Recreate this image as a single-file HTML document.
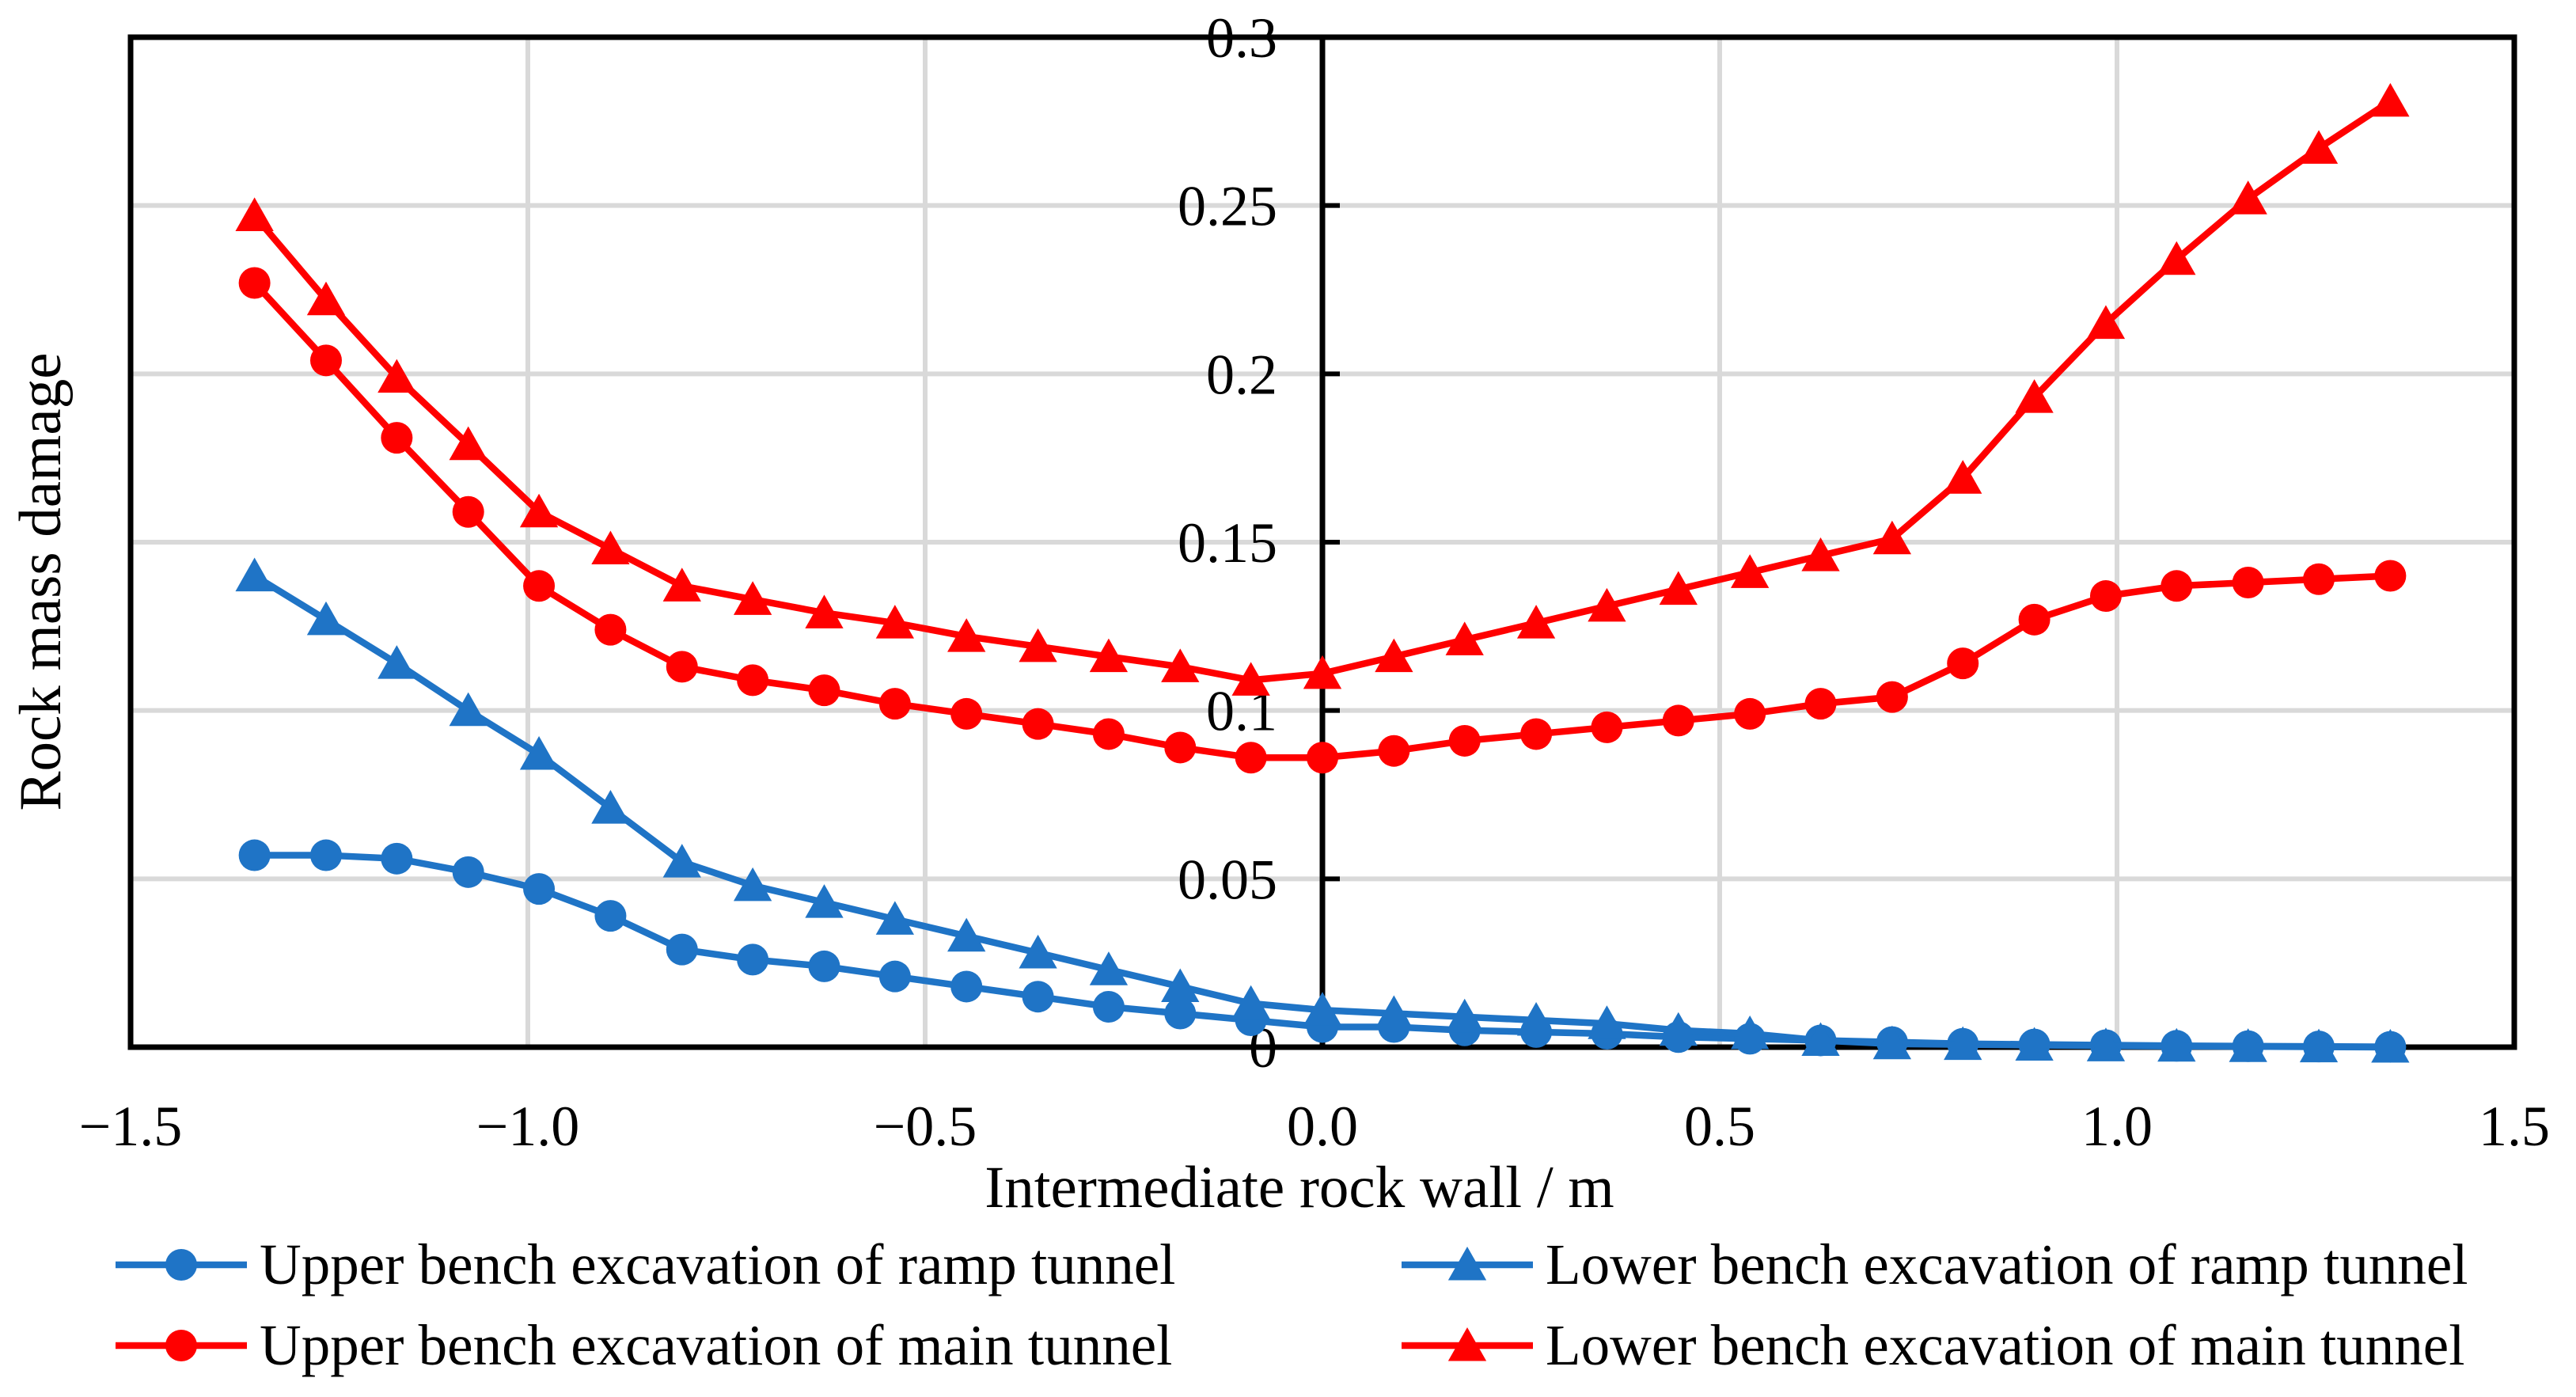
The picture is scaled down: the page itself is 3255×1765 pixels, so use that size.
<!DOCTYPE html>
<html><head><meta charset="utf-8"><style>
html,body{margin:0;padding:0;background:#fff;}
svg{display:block;font-family:"Liberation Serif",serif;}
</style></head><body>
<svg id="chart" xmlns="http://www.w3.org/2000/svg" width="3255" height="1765" viewBox="0 0 3255 1765">
<rect x="0" y="0" width="3255" height="1765" fill="#fff"/>
<g id="grid"></g>
<g id="axes"></g>
<g id="series"></g>
<text x="1642" y="1525" font-size="75" text-anchor="middle">Intermediate rock wall / m</text>
<text transform="translate(76,735) rotate(-90)" font-size="75" text-anchor="middle">Rock mass damage</text>
<g id="legend"></g>
</svg>
<script>
const xValues = [-1.344,-1.254,-1.165,-1.075,-0.986,-0.896,-0.806,-0.717,-0.627,-0.538,-0.448,-0.358,-0.269,-0.179,-0.090,0,0.090,0.179,0.269,0.358,0.448,0.538,0.627,0.717,0.806,0.896,0.986,1.075,1.165,1.254,1.344];
const upperRamp = [0.057,0.057,0.056,0.052,0.047,0.039,0.029,0.026,0.024,0.021,0.018,0.015,0.012,0.010,0.008,0.006,0.006,0.005,0.0045,0.004,0.003,0.0025,0.002,0.0015,0.001,0.0008,0.0006,0.0004,0.0003,0.0002,0.0001];
const lowerRamp = [0.140,0.127,0.114,0.100,0.087,0.071,0.055,0.048,0.043,0.038,0.033,0.028,0.023,0.018,0.013,0.011,0.010,0.009,0.008,0.007,0.005,0.004,0.002,0.001,0.0008,0.0006,0.0004,0.0003,0.0002,0.0001,0];
const upperMain = [0.227,0.204,0.181,0.159,0.137,0.124,0.113,0.109,0.106,0.102,0.099,0.096,0.093,0.089,0.086,0.086,0.088,0.091,0.093,0.095,0.097,0.099,0.102,0.104,0.114,0.127,0.134,0.137,0.138,0.139,0.140];
const lowerMain = [0.247,0.222,0.199,0.179,0.159,0.148,0.137,0.133,0.129,0.126,0.122,0.119,0.116,0.113,0.109,0.111,0.116,0.121,0.126,0.131,0.136,0.141,0.146,0.151,0.169,0.193,0.215,0.234,0.252,0.267,0.281];
const xTicks = [-1.5,-1.0,-0.5,0.0,0.5,1.0,1.5];
const xTickLabels = ["\u22121.5","\u22121.0","\u22120.5","0.0","0.5","1.0","1.5"];
const yTicks = [0,0.05,0.1,0.15,0.2,0.25,0.3];
const yTickLabels = ["0","0.05","0.1","0.15","0.2","0.25","0.3"];
const seriesNames = ["Upper bench excavation of ramp tunnel","Lower bench excavation of ramp tunnel","Upper bench excavation of main tunnel","Lower bench excavation of main tunnel"];

const NS="http://www.w3.org/2000/svg";
const L=165,R=3177,T=47,B=1323;
const xMin=-1.5,xMax=1.5,yMin=0,yMax=0.3;
function sx(v){return L+(v-xMin)/(xMax-xMin)*(R-L);}
function sy(v){return B-(v-yMin)/(yMax-yMin)*(B-T);}
function mk(tag,attrs,parent){const e=document.createElementNS(NS,tag);for(const k in attrs)e.setAttribute(k,attrs[k]);parent.appendChild(e);return e;}
const grid=document.getElementById('grid'),axes=document.getElementById('axes'),ser=document.getElementById('series'),leg=document.getElementById('legend');
const BLUE="#1f74c6",RED="#ff0000";

xTicks.forEach((v,i)=>{
  if(v!==0&&v!==xMin&&v!==xMax){const g=mk('line',{x1:sx(v),x2:sx(v),y1:T,y2:B,stroke:'#d9d9d9','stroke-width':6},grid);
  
  }
  const t=mk('text',{x:sx(v),y:1447,'font-size':72,'text-anchor':'middle'},axes);t.textContent=xTickLabels[i];
  
  
});
yTicks.forEach((v,i)=>{
  if(v!==0&&v!==yMax){const g=mk('line',{x1:L,x2:R,y1:sy(v),y2:sy(v),stroke:'#d9d9d9','stroke-width':6},grid);
  
  }
  const t=mk('text',{x:1614,y:sy(v)+25,'font-size':72,'text-anchor':'end'},axes);t.textContent=yTickLabels[i];
  
  
  const tk=mk('line',{x1:sx(0),x2:sx(0)+22,y1:sy(v),y2:sy(v),stroke:'#000','stroke-width':6},axes);
  
  
});
const frame=mk('rect',{x:L,y:T,width:R-L,height:B-T,fill:'none',stroke:'#000','stroke-width':7},axes);


const yax=mk('line',{x1:sx(0),x2:sx(0),y1:T,y2:B,stroke:'#000','stroke-width':7},axes);



function marker(kind,x,y,color,parent){
  let e;
  if(kind==='circle'){e=mk('circle',{cx:x,cy:y,r:20,fill:color},parent);}
  else{const s=23;e=mk('polygon',{points:`${x},${y-s} ${x+s*1.05},${y+s*0.85} ${x-s*1.05},${y+s*0.85}`,fill:color},parent);}
  return e;
}
const defs=[[upperRamp,BLUE,'circle','upper-ramp'],[lowerRamp,BLUE,'triangle','lower-ramp'],[upperMain,RED,'circle','upper-main'],[lowerMain,RED,'triangle','lower-main']];
defs.forEach(([vals,color,kind,name])=>{
  const g=mk('g',{},ser);
  
  
  const pts=vals.map((v,i)=>sx(xValues[i])+','+sy(v)).join(' ');
  const pl=mk('polyline',{points:pts,fill:'none',stroke:color,'stroke-width':8.5,'stroke-linejoin':'round'},g);
  
  
  vals.forEach((v,i)=>{const m=marker(kind,sx(xValues[i]),sy(v),color,g);
    
    });
});
const legPos=[[146,1598],[1771,1598],[146,1700],[1771,1700]];
defs.forEach(([vals,color,kind,name],i)=>{
  const [x,y]=legPos[i];
  const g=mk('g',{},leg);
  
  
  mk('line',{x1:x,x2:x+166,y1:y,y2:y,stroke:color,'stroke-width':8.5},g);
  marker(kind,x+83,y,color,g);
  const t=mk('text',{x:x+182,y:y+24,'font-size':73},g);t.textContent=seriesNames[i];
});
</script>
</body></html>
